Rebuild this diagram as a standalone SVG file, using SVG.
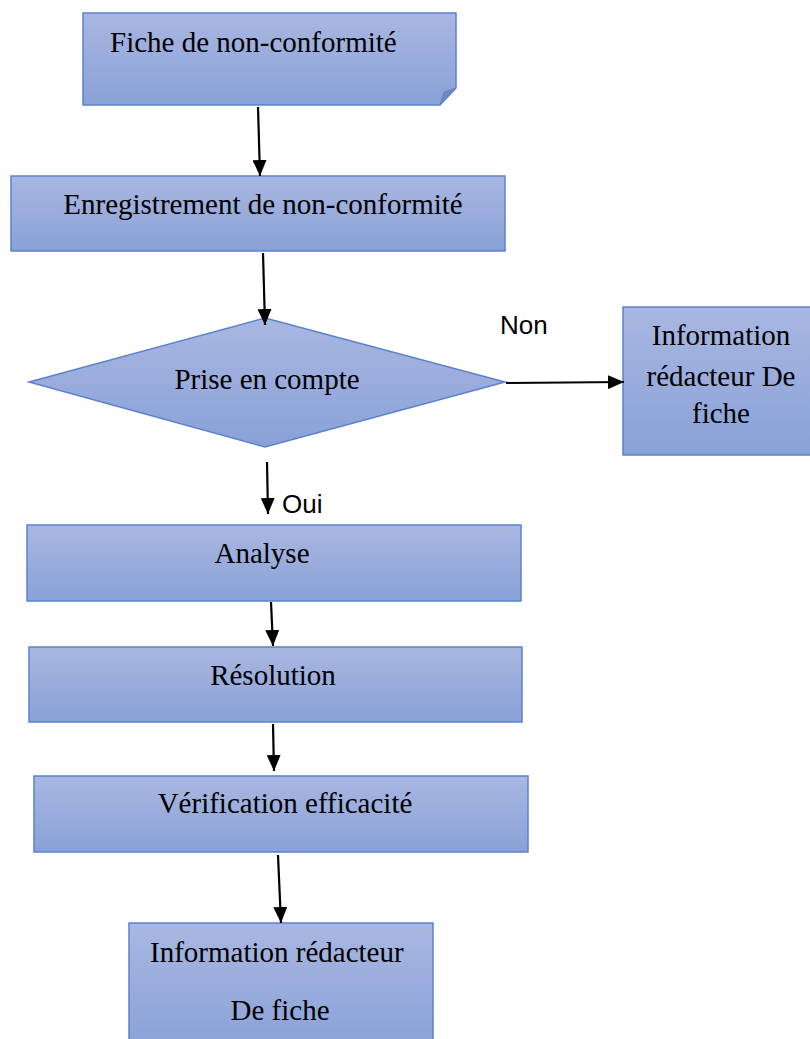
<svg xmlns="http://www.w3.org/2000/svg" width="810" height="1039" viewBox="0 0 810 1039">
<defs>
<linearGradient id="g" x1="0" y1="0" x2="0" y2="1">
<stop offset="0" stop-color="#a9b7e1"/>
<stop offset="1" stop-color="#89a1d7"/>
</linearGradient>
<marker id="ah" viewBox="0 0 16 14" refX="16" refY="7" markerWidth="16" markerHeight="14" markerUnits="userSpaceOnUse" orient="auto">
<path d="M0,0 L16,7 L0,14 z" fill="#000"/>
</marker>
<style>
.n{fill:url(#g);stroke:#5b82cc;stroke-width:1.5}
.t{font-family:"Liberation Serif",serif;font-size:29px;fill:#000}
.s{font-family:"Liberation Sans",sans-serif;font-size:26px;fill:#000}
.c{stroke:#000;stroke-width:2.2;fill:none;marker-end:url(#ah)}
</style>
</defs>
<rect width="810" height="1039" fill="#fff"/>
<g id="n1">
<path class="n" d="M83,13 H456 V88 L440,105 H83 Z"/>
<path d="M456,88 L444,92 L440,105 Z" fill="#7088c0" stroke="#5b82cc" stroke-width="1"/>
<text class="t" x="110" y="52">Fiche de non-conformité</text>
</g>
<g id="n2">
<rect class="n" x="11" y="176" width="494" height="75"/>
<text class="t" x="263" y="214" text-anchor="middle">Enregistrement de non-conformité</text>
</g>
<g id="n3">
<path class="n" d="M265,318 L505,382 L265,447 L29,382 Z"/>
<text class="t" x="267" y="389" text-anchor="middle">Prise en compte</text>
</g>
<g id="n4">
<rect class="n" x="623" y="307" width="190" height="148"/>
<text class="t" x="721" y="345" text-anchor="middle">Information</text>
<text class="t" x="721" y="386" text-anchor="middle">rédacteur De</text>
<text class="t" x="721" y="423" text-anchor="middle">fiche</text>
</g>
<g id="n5">
<rect class="n" x="27" y="525" width="494" height="76"/>
<text class="t" x="262" y="563" text-anchor="middle">Analyse</text>
</g>
<g id="n6">
<rect class="n" x="29" y="647" width="493" height="75"/>
<text class="t" x="273" y="685" text-anchor="middle">Résolution</text>
</g>
<g id="n7">
<rect class="n" x="34" y="776" width="494" height="76"/>
<text class="t" x="285" y="813" text-anchor="middle">Vérification efficacité</text>
</g>
<g id="n8">
<rect class="n" x="129" y="923" width="304" height="130"/>
<text class="t" x="150" y="962">Information rédacteur</text>
<text class="t" x="280" y="1020" text-anchor="middle">De fiche</text>
</g>
<g id="connectors">
<line class="c" x1="258" y1="107" x2="260" y2="176"/>
<line class="c" x1="263" y1="253" x2="265" y2="325"/>
<line class="c" x1="506" y1="383" x2="624" y2="382"/>
<line class="c" x1="267" y1="462" x2="268" y2="514"/>
<line class="c" x1="271" y1="602" x2="273" y2="646"/>
<line class="c" x1="273" y1="724" x2="274" y2="771"/>
<line class="c" x1="278" y1="855" x2="281" y2="923"/>
<text class="s" x="500" y="334">Non</text>
<text class="s" x="282" y="513">Oui</text>
</g>
</svg>
